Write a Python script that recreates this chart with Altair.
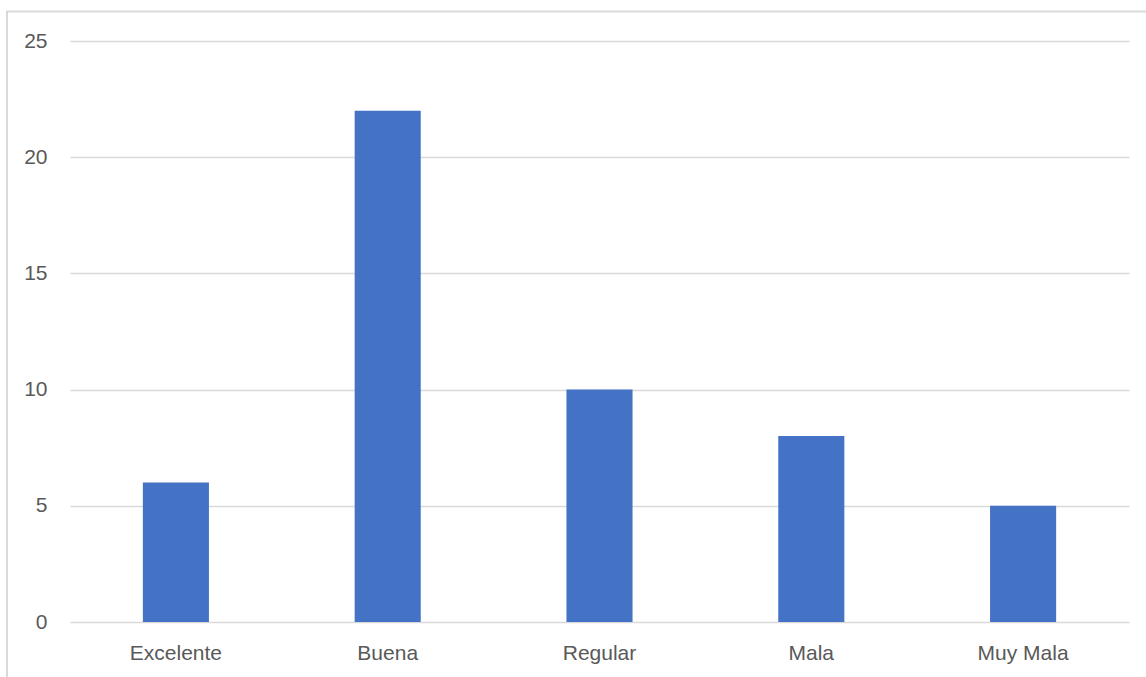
import altair as alt
import pandas as pd

# Survey answers and how many times each was chosen
categories = ["Excelente", "Buena", "Regular", "Mala", "Muy Mala"]
counts = [6, 22, 10, 8, 5]
y_ticks = [0, 5, 10, 15, 20, 25]

df = pd.DataFrame({"categoria": categories, "cantidad": counts})

LABEL_FONT = "Liberation Sans"
LABEL_COLOR = "#595959"
GRID_COLOR = "#d9d9d9"

bars = alt.Chart(df).mark_bar(color="#4472C4").encode(
    x=alt.X(
        "categoria:N",
        sort=categories,
        title=None,
        scale=alt.Scale(paddingInner=0.688, paddingOuter=0.344),
        axis=alt.Axis(
            labelAngle=0,
            domain=False,
            ticks=False,
            labelPadding=20,
            labelFont=LABEL_FONT,
            labelFontSize=21,
            labelColor=LABEL_COLOR,
        ),
    ),
    y=alt.Y(
        "cantidad:Q",
        title=None,
        scale=alt.Scale(domain=[0, 25], nice=False),
        axis=alt.Axis(
            values=y_ticks,
            domain=False,
            ticks=False,
            grid=True,
            gridColor=GRID_COLOR,
            gridWidth=1.3,
            labelPadding=23,
            labelFont=LABEL_FONT,
            labelFontSize=21,
            labelColor=LABEL_COLOR,
        ),
    ),
)

# Thin outline around the whole chart area
frame = alt.Chart(alt.Data(values=[{}])).mark_rect(
    filled=False, stroke=GRID_COLOR, strokeWidth=2
).encode(
    x=alt.value(-63),
    x2=alt.value(1100),
    y=alt.value(-29.5),
    y2=alt.value(680),
)

chart = alt.layer(frame, bars).properties(
    width=1059,
    height=581,
    padding={"left": 70, "top": 41, "right": 17, "bottom": 55},
    autosize=alt.AutoSizeParams(type="none"),
    background="white",
).configure_view(stroke=None)

chart.save("out.html", embed_options={"renderer": "svg", "actions": False})
